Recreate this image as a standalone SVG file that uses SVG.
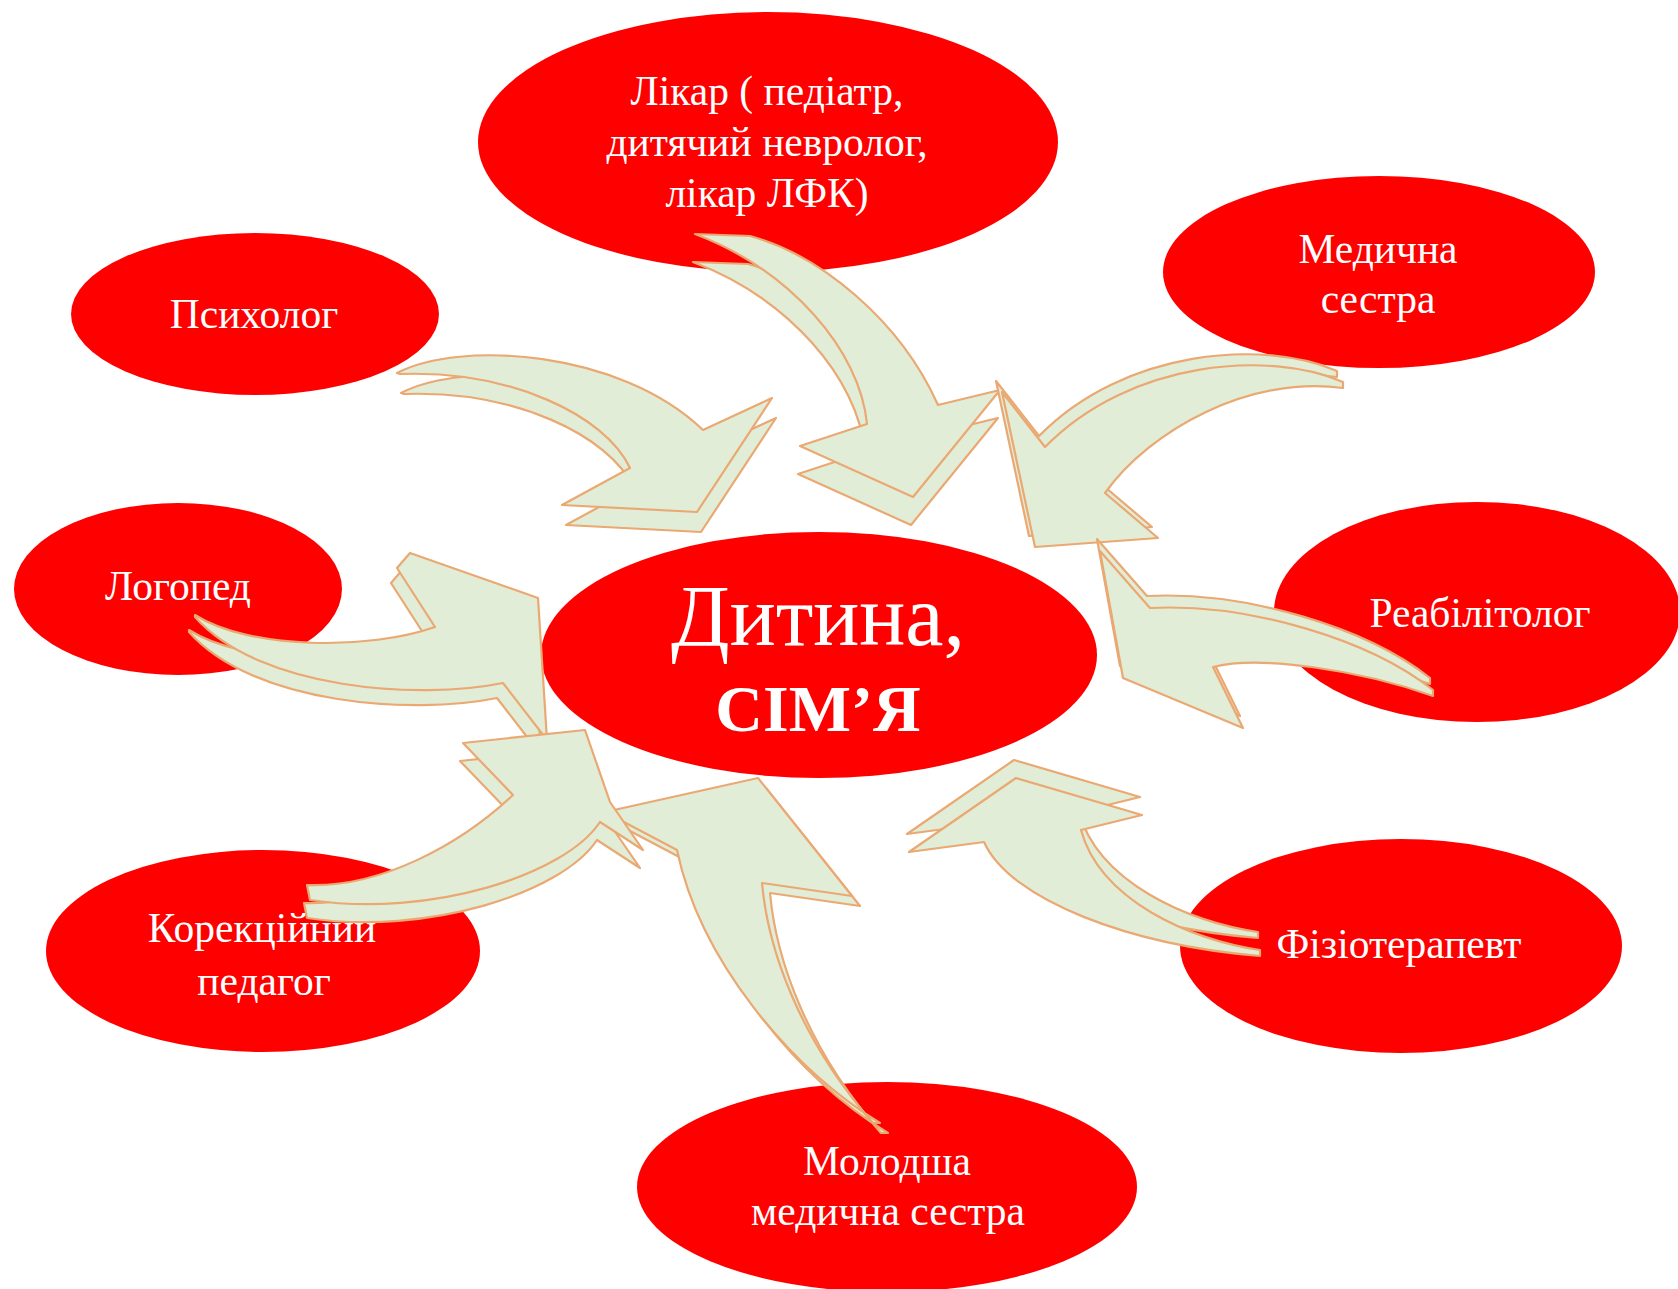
<svg xmlns="http://www.w3.org/2000/svg" width="1678" height="1289" viewBox="0 0 1678 1289">
<defs>
<style>
.node ellipse{fill:#FF0000}
.node text{fill:#FFFFFF;font-family:"Liberation Serif","Times New Roman",serif;font-size:41.5px;text-anchor:middle}
.face{fill:#E2EDD7;stroke:#EAA872;stroke-width:2.2;stroke-linejoin:round}
</style>
<path id="fA" d="M695,234 L750,236 C820,255 900,320 938,405 L1000,390 L913,497 L800,446 L867,424 C860,350 790,270 695,234 Z"/>
<path id="fB" d="M397,373 C460,340 620,350 703,430 L772,398 L697,512 L562,505 L630,468 C605,415 510,370 400,374 Z"/>
<path id="fC" d="M1343,382 C1270,350 1130,360 1045,447 L1002,392 L1035,547 L1158,538 L1105,493 C1150,430 1250,375 1343,388 Z"/>
<path id="fD" d="M1433,690 C1370,640 1250,603 1150,608 L1100,551 L1123,678 L1243,728 L1213,667 C1260,655 1360,670 1433,696 Z"/>
<path id="fE" d="M1260,950 C1190,940 1100,900 1081,830 L1142,815 L1016,778 L909,852 L984,842 C1010,900 1130,945 1260,956 Z"/>
<path id="fF" d="M195,615 C250,650 370,650 435,627 L397,568 L410,553 L538,598 L547,740 L503,683 C420,700 260,690 195,617 Z"/>
<path id="fG" d="M307,885 C380,888 460,845 513,795 L463,743 L585,730 L610,802 L643,850 L600,822 C565,875 430,918 310,900 Z"/>
<path id="fH" d="M880,1123 C790,1068 700,960 677,850 L605,812 L758,778 L852,896 L762,883 C768,950 800,1040 873,1123 Z"/>
</defs>
<rect width="1678" height="1289" fill="#FFFFFF"/>
<g id="node-likar" class="node">
<ellipse cx="768" cy="142" rx="290" ry="130"/>
<text x="767" y="105">Лікар ( педіатр,</text>
<text x="767" y="156">дитячий невролог,</text>
<text x="767" y="207">лікар ЛФК)</text>
</g>
<g id="node-psycholog" class="node">
<ellipse cx="255" cy="314" rx="184" ry="81"/>
<text x="254" y="328">Психолог</text>
</g>
<g id="node-medsestra" class="node">
<ellipse cx="1379" cy="272" rx="216" ry="96"/>
<text x="1378" y="263">Медична</text>
<text x="1378" y="313">сестра</text>
</g>
<g id="node-logoped" class="node">
<ellipse cx="178" cy="589" rx="164" ry="86"/>
<text x="178" y="600">Логопед</text>
</g>
<g id="node-center" class="node">
<ellipse cx="819" cy="655" rx="278" ry="123"/>
<text x="818" y="645" style="font-size:86px">Дитина,</text>
<text x="818" y="731" style="font-size:66px;font-weight:bold">СІМ’Я</text>
</g>
<g id="node-reabilitolog" class="node">
<ellipse cx="1477" cy="612" rx="203" ry="110"/>
<text x="1480" y="627">Реабілітолог</text>
</g>
<g id="node-korekciynyi" class="node">
<ellipse cx="263" cy="951" rx="217" ry="101"/>
<text x="262" y="942">Корекційний</text>
<text x="264" y="995">педагог</text>
</g>
<g id="node-molodsha" class="node">
<ellipse cx="887" cy="1187" rx="250" ry="105"/>
<text x="887" y="1175">Молодша</text>
<text x="888" y="1225">медична сестра</text>
</g>
<g id="node-fizio" class="node">
<ellipse cx="1401" cy="946" rx="221" ry="107"/>
<text x="1399" y="958">Фізіотерапевт</text>
</g>
<g id="connectors">
<g id="arrow-likar"><use href="#fA" class="face" transform="translate(-2,28)"/><use href="#fA" class="face"/></g>
<g id="arrow-psycholog"><use href="#fB" class="face" transform="translate(4,20)"/><use href="#fB" class="face"/></g>
<g id="arrow-medsestra"><use href="#fC" class="face" transform="translate(-6,-11)"/><use href="#fC" class="face"/></g>
<g id="arrow-reabilitolog"><use href="#fD" class="face" transform="translate(-3,-12)"/><use href="#fD" class="face"/></g>
<g id="arrow-fizio"><use href="#fE" class="face" transform="translate(-2,-18)"/><use href="#fE" class="face"/></g>
<g id="arrow-logoped"><use href="#fF" class="face" transform="translate(-6,15)"/><use href="#fF" class="face"/></g>
<g id="arrow-molodsha"><use href="#fH" class="face" transform="translate(8,10)"/><use href="#fH" class="face"/></g>
<g id="arrow-korekciynyi"><use href="#fG" class="face" transform="translate(-3,18)"/><use href="#fG" class="face"/></g>
</g>
</svg>
